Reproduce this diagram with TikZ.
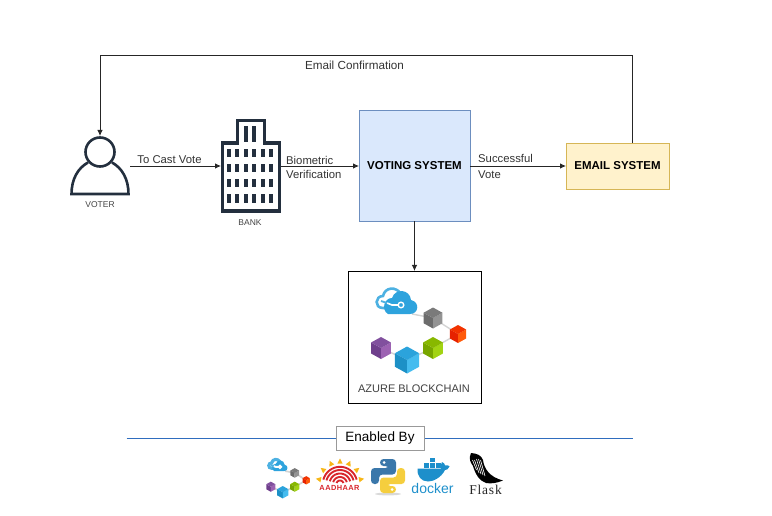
\documentclass[tikz,border=0pt]{standalone}
\usepackage{fontspec}
\setmainfont{Liberation Sans}
\newfontfamily\flaskfont[LetterSpace=6]{Liberation Serif}
\newfontfamily\aadfont[LetterSpace=6]{Liberation Sans}
\usetikzlibrary{arrows.meta}
\definecolor{iconink}{HTML}{232F3E}
\definecolor{iconlabel}{HTML}{444444}
\definecolor{linkgray}{HTML}{D4D4D4}
\definecolor{cloudblue}{HTML}{2EA3DD}
\definecolor{dockerblue}{HTML}{1D8FCB}
\definecolor{rulerblue}{HTML}{2F6DBE}
\definecolor{pyblue}{HTML}{3A77AA}
\definecolor{pyyellow}{HTML}{F5CE3E}
\definecolor{aadred}{HTML}{D8262C}
\definecolor{aadsun}{HTML}{F7B718}
\definecolor{votefill}{HTML}{DAE8FC}
\definecolor{votedraw}{HTML}{6C8EBF}
\definecolor{mailfill}{HTML}{FFF2CC}
\definecolor{maildraw}{HTML}{D6B656}
\newcommand\fsz[1]{\fontsize{#1}{#1}\selectfont}
\tikzset{
  conn/.style={draw=black!85,line width=0.8pt,-{Latex[length=6pt,width=5.5pt]}},
  anchorbox/.style={inner sep=0pt,outer sep=0pt},
  lbl/.style={inner sep=0pt,text=black!80,font=\fsz{11.3}},
  iconlbl/.style={inner sep=0pt,text=iconlabel,font=\fsz{8.5}},
  sysbox/.style={draw,line width=0.8pt,inner sep=0pt,outer sep=0pt,font=\fsz{11.5}\bfseries,align=center},
  iconline/.style={draw=iconink,line width=2.6pt,line join=miter},
}
% cube: x y r left right top
\newcommand\cubeshape[6]{%
  \fill[#4] (#1,#2) -- ++(-.9*#3,-.5*#3) -- ++(0,#3) -- (#1,#2+#3) -- cycle;
  \fill[#5] (#1,#2) -- ++(.9*#3,-.5*#3) -- ++(0,#3) -- (#1,#2+#3) -- cycle;
  \fill[#6] (#1,#2) -- ++(-.9*#3,-.5*#3) -- (#1,#2-#3) -- ++(.9*#3,.5*#3) -- cycle;
}
\definecolor{gA}{HTML}{6C6C6C}\definecolor{gB}{HTML}{939393}\definecolor{gC}{HTML}{7A7A7A}
\definecolor{rA}{HTML}{E62200}\definecolor{rB}{HTML}{FF5A0A}\definecolor{rC}{HTML}{F23300}
\definecolor{lA}{HTML}{78A600}\definecolor{lB}{HTML}{A2D312}\definecolor{lC}{HTML}{88B800}
\definecolor{pA}{HTML}{6F3F8C}\definecolor{pB}{HTML}{9C62B2}\definecolor{pC}{HTML}{81509E}
\definecolor{bA}{HTML}{1C90C6}\definecolor{bB}{HTML}{45BCEF}\definecolor{bC}{HTML}{2BA3DC}
% blockchain logo: x y scale linewidth
\newcommand\chainlogo[4]{%
\begin{scope}[shift={(#1,#2)},scale=#3]
  \draw[linkgray,line width=#4*1.4pt] (-2,-27) -- (19,-23) -- (44,-7) -- (19,7) -- (-7,19) -- (-33,7);
  \cubeshape{19}{-23}{10.5}{gA}{gB}{gC}
  \cubeshape{44}{-7}{9}{rA}{rB}{rC}
  \cubeshape{19}{7}{11}{lA}{lB}{lC}
  \cubeshape{-33}{7}{11}{pA}{pB}{pC}
  \cubeshape{-7}{19}{13.5}{bA}{bB}{bC}
  % outlined left lobe of cloud
  \draw[cloudblue!85,line width=#4*2.6pt,line cap=round]
    (-20,-33) -- (-31,-33) .. controls (-40,-33) and (-39,-45) .. (-31,-45)
    .. controls (-29,-54) and (-18,-55) .. (-13,-47);
  % solid right part of cloud
  \fill[cloudblue] (-26,-27) -- (-4,-27) .. controls (5,-27) and (6,-39) .. (-3,-41)
    .. controls (-4,-52) and (-19,-53) .. (-22,-43)
    .. controls (-30,-43) and (-33,-31) .. (-26,-27) -- cycle;
  \draw[white,line width=#4*1.6pt] (-27,-38) -- (-22,-36) -- (-15,-36);
  \draw[cloudblue!85,line width=#4*1.8pt] (-33,-40) -- (-27,-38);
  \draw[white,fill=cloudblue,line width=#4*1.4pt] (-13,-36) circle[radius=2.8];
\end{scope}}
\begin{document}
\begin{tikzpicture}[x=1pt,y=-1pt]
\useasboundingbox (0,0) rectangle (772,516);
% Nodes
\node[anchorbox,minimum width=60pt,minimum height=60pt] (voter) at (100,166) {};
\node[anchorbox,minimum width=60pt,minimum height=94pt] (bank) at (251,166) {};
\node[sysbox,draw=votedraw,fill=votefill,minimum width=111pt,minimum height=111pt] (vote) at (414.5,166) {VOTING SYSTEM};
\node[sysbox,draw=maildraw,fill=mailfill,minimum width=103pt,minimum height=46pt] (email) at (617.5,166) {EMAIL SYSTEM};
\node[draw=black,line width=0.8pt,inner sep=0pt,outer sep=0pt,minimum width=133pt,minimum height=132pt] (azure) at (414.5,337) {};
\coordinate (tb) at ([xshift=14.5pt]email.north);
\coordinate (tr) at (tb |- 0,55);
\coordinate (tl) at (voter.north |- 0,55);
% Voter icon
\draw[iconline] (100,152) circle[radius=14.5];
\draw[iconline] (88,162.5) .. controls (78,168) and (71.5,179) .. (71.5,194) -- (128.5,194) .. controls (128.5,179) and (122,168) .. (112,162.5);
% Bank icon
\draw[iconline,line width=3.2pt] (222.5,211) -- (222.5,143) -- (237.5,143) -- (237.5,120.5) -- (264.5,120.5) -- (264.5,143) -- (279.5,143) -- (279.5,211) -- cycle;
\foreach \wx in {246,254}{\fill[iconink] (\wx-2,126) rectangle (\wx+2,142);}
\foreach \wx in {229.3,237.3,245.7,254.3,262.7,271}{
  \foreach \wy/\wh in {149/8,164/8.5,179/8.5,194/9}{
    \fill[iconink] (\wx-2.1,\wy) rectangle (\wx+2.1,\wy+\wh);}}
% Connectors
\draw[conn] (voter.east) -- (bank.west);
\draw[conn] (bank.east) -- (vote.west);
\draw[conn] (vote.east) -- (email.west);
\draw[conn] (vote.south) -- (azure.north);
\draw[conn] (tb) -- (tr) -- (tl) -- (voter.north);
% Labels
\node[iconlbl] (voterlbl) at (100,205) {VOTER};
\node[iconlbl] (banklbl) at (250,223) {BANK};
\node[lbl] (l1) at (169.5,159.5) {To Cast Vote};
\node[lbl,anchor=west] (l2a) at (286,160) {Biometric};
\node[lbl,anchor=west] (l2b) at (286,174) {Verification};
\node[lbl,anchor=west] (l3a) at (478,158.5) {Successful};
\node[lbl,anchor=west] (l3b) at (478,174.5) {Vote};
\node[lbl,font=\fsz{11.7}] (l4) at (354.5,65) {Email Confirmation};
% Azure
\chainlogo{414}{341}{1}{1}
\node[inner sep=0pt,text=black!75,font=\fsz{11}] (azlbl) at (414,389) {AZURE BLOCKCHAIN};
% Enabled by
\node[anchorbox] (hl) at (126,438) {};
\node[anchorbox] (hr) at (633,438) {};
\draw[rulerblue,line width=0.9pt] (hl) -- (hr);
\node[draw=black!40,fill=white,line width=0.8pt,inner sep=0pt,minimum width=88pt,minimum height=24pt,font=\fsz{13.5}] (enabled) at (380,438) {Enabled By};
% small chain logo
\chainlogo{286}{483.5}{0.46}{1.2}
% Aadhaar
\foreach \a in {190,218,245,270,295,322,350}{
  \fill[aadsun] ({340+19.5*cos(\a-8)},{483+19.5*sin(\a-8)}) -- ({340+24.5*cos(\a)},{483+24.5*sin(\a)}) -- ({340+19.5*cos(\a+8)},{483+19.5*sin(\a+8)}) -- cycle;}
\foreach \r in {3.5,7,10.5,14,17.2}{
  \draw[aadred,line width=1.9pt] plot[smooth,domain=195:345,samples=17] ({340+\r*cos(\x)},{484+\r*sin(\x)});}
\node[fill=white,inner sep=0.4pt,text=aadred,font=\aadfont\fsz{7.4}\bfseries] (aadtxt) at (339.5,488) {AADHAAR};
% Python
\begin{scope}[shift={(388,476)}]
  \fill[black!15] (0,18) ellipse[x radius=13,y radius=1.4];
  \fill[pyblue,rounded corners=3.5pt] (-8,-17) -- (8,-17) -- (8,-1.5) -- (-9,-1.5) -- (-9,8) -- (-17,8) -- (-17,-8) -- (1,-8) -- (1,-10) -- (-8,-10) -- cycle;
  \fill[pyyellow,rounded corners=3.5pt] (8,17) -- (-8,17) -- (-8,1.5) -- (9,1.5) -- (9,-8) -- (17,-8) -- (17,8) -- (-1,8) -- (-1,10) -- (8,10) -- cycle;
  \fill[white] (-4,-13.5) circle[radius=1.5] (4,13.5) circle[radius=1.5];
\end{scope}
% Docker
\fill[dockerblue] (417.5,468.5) -- (441,468.5) .. controls (440.5,466) and (441,464) .. (442,462) .. controls (444,463) and (445,464) .. (445,465.5) .. controls (447,464.5) and (449,465.5) .. (449.5,466.5) .. controls (448.5,469.5) and (446.5,470) .. (445,470) .. controls (441,478) and (433,481.5) .. (428,481.5) .. controls (421,481.5) and (417,476) .. (417.5,468.5) -- cycle;
\foreach \cx/\cy in {429.5/457.5,423.5/463,429.5/463,435.5/463}{
  \fill[dockerblue] (\cx,\cy) rectangle (\cx+5.2,\cy+4.9);}
\node[inner sep=0pt,text=dockerblue,font=\fsz{14}] (dock) at (432.5,488.5) {docker};
% Flask
\fill[black] (471,453) .. controls (477,453.5) and (481,455) .. (483,460) .. controls (484,468) and (489,477) .. (503,480.5) .. controls (497,483) and (491,484) .. (486,483) .. controls (479,481) and (475,473) .. (473,466) .. controls (471,463) and (468,459) .. (471,453) -- cycle;
\foreach \hx/\hy/\hxx/\hyy in {474.5/460/479/473,476.5/459/481/474,478.5/459/483/475,480.5/460/485/476,472.5/460/476.5/470}{
  \draw[white,line width=0.6pt] (\hx,\hy) -- (\hxx,\hyy);}
\node[inner sep=0pt,text=black!85,font=\flaskfont\fsz{13.5}] (flask) at (485.5,490) {Flask};
\end{tikzpicture}
\end{document}
